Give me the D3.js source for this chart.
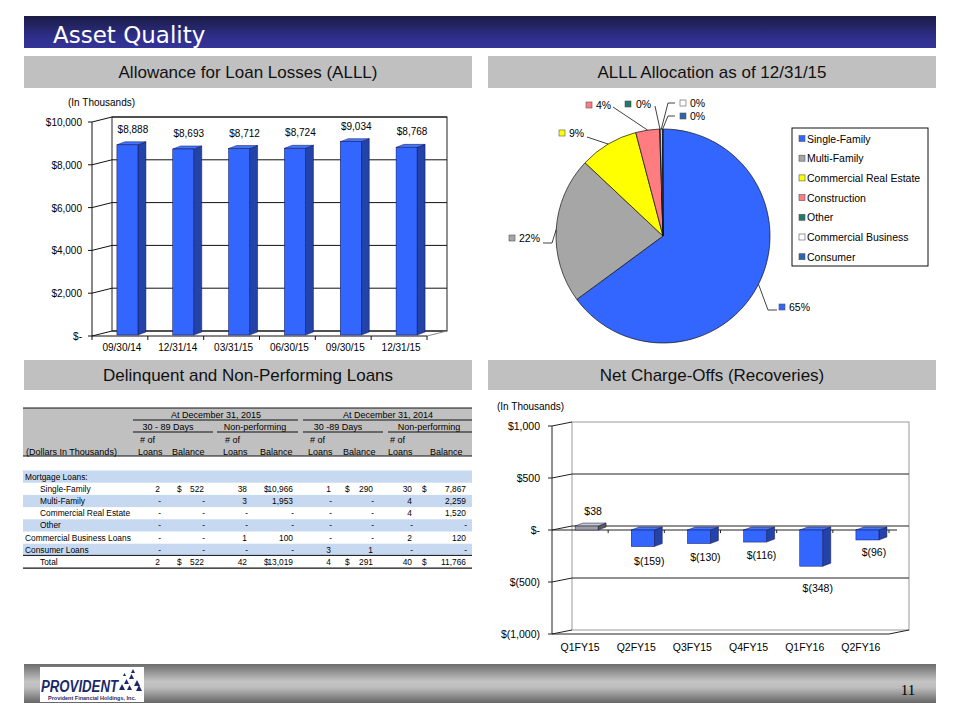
<!DOCTYPE html>
<html>
<head>
<meta charset="utf-8">
<script src="https://cdn.jsdelivr.net/npm/d3@7"></script>
<style>
body{margin:0;background:#fff}
svg{display:block}
text{font-family:"Liberation Sans",Arial,sans-serif}
</style>
</head>
<body>
<svg id="slide" width="960" height="720"></svg>
<script>
// ---- data: allowance for loan losses
var alllDates = ["09/30/14","12/31/14","03/31/15","06/30/15","09/30/15","12/31/15"];
var alllValues = [8888,8693,8712,8724,9034,8768];
var alllTicks = [0,2000,4000,6000,8000,10000];

// ---- data: ALLL allocation
var pieCats = ["Single-Family","Multi-Family","Commercial Real Estate","Construction","Other","Commercial Business","Consumer"];
var pieShares = [64.9,22.1,8.9,3.6,0.1,0.3,0.1];
var pieColors = ["#3366ff","#a6a6a6","#ffff00","#ff7c80","#1f7a66","#ffffff","#2a64b4"];

// ---- data: net charge-offs
var ncoQuarters = ["Q1FY15","Q2FY15","Q3FY15","Q4FY15","Q1FY16","Q2FY16"];
var ncoValues = [38,-159,-130,-116,-348,-96];
var ncoTicks = [-1000,-500,0,500,1000];

// ---- data: delinquent table
var rowLabels = ["Mortgage Loans:","Single-Family","Multi-Family","Commercial Real Estate","Other","Commercial Business Loans","Consumer Loans","Total"];
var loans15Late = [null,2,0,0,0,0,0,2];
var bal15Late   = [null,522,0,0,0,0,0,522];
var loans15Np   = [null,38,3,0,0,1,0,42];
var bal15Np     = [null,10966,1953,0,0,100,0,13019];
var loans14Late = [null,1,0,0,0,0,3,4];
var bal14Late   = [null,290,0,0,0,0,1,291];
var loans14Np   = [null,30,4,4,0,2,0,40];
var bal14Np     = [null,7867,2259,1520,0,120,0,11766];

var svg = d3.select("#slide");
var defs = svg.append("defs");
var comma = d3.format(",");
function money(v){
	if(v==0) return "$-";
	if(v<0) return "$("+comma(-v)+")";
	return "$"+comma(v);
}

// title bar
var tg = defs.append("linearGradient").attr("id","titleGrad").attr("x1",0).attr("y1",0).attr("x2",0).attr("y2",1);
tg.append("stop").attr("offset","0%").attr("stop-color","#1b1b45");
tg.append("stop").attr("offset","70%").attr("stop-color","#30308e");
tg.append("stop").attr("offset","100%").attr("stop-color","#343498");
svg.append("rect").attr("x",24).attr("y",16).attr("width",912).attr("height",32).attr("fill","url(#titleGrad)");
svg.append("text").attr("x",53).attr("y",43).attr("fill","#fff")
	.style("font-family","'DejaVu Sans',Verdana,sans-serif").style("font-size","23px").text("Asset Quality");

// section headers
var heads = [
	{t:"Allowance for Loan Losses (ALLL)", x:24, y:56},
	{t:"ALLL Allocation as of 12/31/15", x:488, y:56},
	{t:"Delinquent and Non-Performing Loans", x:24, y:360},
	{t:"Net Charge-Offs (Recoveries)", x:488, y:360}
];
heads.forEach(function(h){
	svg.append("rect").attr("x",h.x).attr("y",h.y).attr("width",448).attr("height",h.y==56?32:30).attr("fill","#c0c0c0");
	svg.append("text").attr("x",h.x+224).attr("y",h.y+(h.y==56?22:21)).attr("text-anchor","middle")
		.style("font-size","17px").attr("fill","#111").text(h.t);
});

// 3d column helper
function bar3d(g, x, yTop, yBot, w, d, dd, front, side, top){
	g.append("polygon")
		.attr("points",[[x+w,yTop],[x+w+d,yTop-dd],[x+w+d,yBot-dd],[x+w,yBot]].join(" "))
		.attr("fill",side).attr("stroke","#101050").attr("stroke-width",0.5);
	g.append("polygon")
		.attr("points",[[x,yTop],[x+d,yTop-dd],[x+w+d,yTop-dd],[x+w,yTop]].join(" "))
		.attr("fill",top).attr("stroke","#101050").attr("stroke-width",0.5);
	g.append("rect").attr("x",x).attr("y",yTop).attr("width",w).attr("height",yBot-yTop)
		.attr("fill",front).attr("stroke","#101050").attr("stroke-width",0.5);
}

// ---------- ALLL bar chart
(function(){
	var g = svg.append("g");
	var DX=20, DY=-5;
	var x = d3.scaleBand().domain(alllDates).range([92,427]);
	var y = d3.scaleLinear().domain([0,10000]).range([336,122]);
	var x0=92, x1=427;
	// back wall
	g.append("rect").attr("x",x0+DX).attr("y",y(10000)+DY).attr("width",x1-x0).attr("height",y(0)-y(10000))
		.attr("fill","#fff").attr("stroke","#222").attr("stroke-width",1);
	alllTicks.forEach(function(t){
		g.append("line").attr("x1",x0+DX).attr("x2",x1+DX).attr("y1",y(t)+DY).attr("y2",y(t)+DY).attr("stroke","#111");
		g.append("line").attr("x1",x0).attr("x2",x0+DX).attr("y1",y(t)).attr("y2",y(t)+DY).attr("stroke","#111");
		g.append("line").attr("x1",x0-4).attr("x2",x0).attr("y1",y(t)).attr("y2",y(t)).attr("stroke","#111");
		g.append("text").attr("x",82).attr("y",y(t)+4).attr("text-anchor","end").style("font-size","10px")
			.text(t==0?"$-":money(t));
	});
	g.append("line").attr("x1",x0).attr("x2",x0).attr("y1",y(10000)).attr("y2",y(0)).attr("stroke","#111");
	// floor
	g.append("line").attr("x1",x0).attr("x2",x1).attr("y1",y(0)).attr("y2",y(0)).attr("stroke","#111");
	g.append("line").attr("x1",x1).attr("x2",x1+DX).attr("y1",y(0)).attr("y2",y(0)+DY).attr("stroke","#888");
	alllDates.concat(["end"]).forEach(function(c,i){
		var xx = i<alllDates.length ? x(c) : x1;
		g.append("line").attr("x1",xx).attr("x2",xx).attr("y1",y(0)).attr("y2",y(0)+4).attr("stroke","#111");
	});
	alllDates.forEach(function(c,i){
		var cx = x(c)+x.bandwidth()/2;
		bar3d(g, cx-3, y(alllValues[i])-1, y(0)-1, 21, 8, 3, "#3366ff", "#2443a8", "#4477ff");
		g.append("text").attr("x",cx+13).attr("y",y(alllValues[i])-13).attr("text-anchor","middle")
			.style("font-size","10px").text(money(alllValues[i]));
		g.append("text").attr("x",cx+2).attr("y",351).attr("text-anchor","middle").style("font-size","10px").text(c);
	});
	g.append("text").attr("x",68).attr("y",106).style("font-size","10px").text("(In Thousands)");
})();

// ---------- pie
(function(){
	var g = svg.append("g").attr("transform","translate(663,236)");
	var r = 107;
	var pie = d3.pie().sort(null).value(function(d){return d;});
	var arcs = pie(pieShares);
	var arc = d3.arc().innerRadius(0).outerRadius(r);
	g.selectAll("path").data(arcs).enter().append("path")
		.attr("d",arc).attr("fill",function(d,i){return pieColors[i];})
		.attr("stroke","#111").attr("stroke-width",0.7);
	var total = d3.sum(pieShares);
	// label placement (slide coordinates): elbow points, marker centre, text x
	var spots = [
		{pts:[[768,310],[777,310]], m:[782,307], tx:789},
		{pts:[[552,243],[543,243]], m:[512,238], tx:519},
		{pts:[[587,137]], m:[562,133], tx:569},
		{pts:[[613,107]], m:[589,105], tx:596},
		{pts:[[655,106]], m:[628,104], tx:636},
		{pts:[[668,103],[675,103]], m:[683,103], tx:690},
		{pts:[[668,116],[675,116]], m:[683,116], tx:690}
	];
	var lg = svg.append("g");
	arcs.forEach(function(a,i){
		var mid = (a.startAngle+a.endAngle)/2;
		var p0 = [663+r*Math.sin(mid), 236-r*Math.cos(mid)];
		var s = spots[i];
		lg.append("polyline").attr("points",[p0].concat(s.pts).join(" "))
			.attr("fill","none").attr("stroke","#111").attr("stroke-width",0.8);
		lg.append("rect").attr("x",s.m[0]-3).attr("y",s.m[1]-3).attr("width",6).attr("height",6)
			.attr("fill",pieColors[i]).attr("stroke","#555").attr("stroke-width",0.6);
		lg.append("text").attr("x",s.tx).attr("y",s.m[1]+4).style("font-size","10.5px")
			.text(Math.round(a.data/total*100)+"%");
	});
	// legend
	var leg = svg.append("g");
	leg.append("rect").attr("x",792).attr("y",128).attr("width",136).attr("height",138)
		.attr("fill","#fff").attr("stroke","#111");
	pieCats.forEach(function(c,i){
		var yy = 138.5+i*19.7;
		leg.append("rect").attr("x",799).attr("y",yy-3).attr("width",6).attr("height",6)
			.attr("fill",pieColors[i]).attr("stroke","#555").attr("stroke-width",0.6);
		leg.append("text").attr("x",807).attr("y",yy+4).style("font-size","10.5px").text(c);
	});
})();

// ---------- net charge-offs
(function(){
	var g = svg.append("g");
	var DX=20, DY=-4;
	var x0=552, x1=889;
	var x = d3.scaleBand().domain(ncoQuarters).range([x0,x1]);
	var y = d3.scaleLinear().domain([-1000,1000]).range([634,426]);
	g.append("rect").attr("x",x0+DX).attr("y",y(1000)+DY).attr("width",x1-x0).attr("height",y(-1000)-y(1000))
		.attr("fill","#fff").attr("stroke","#999").attr("stroke-width",1);
	ncoTicks.forEach(function(t){
		if(t>-1000 && t<1000)
			g.append("line").attr("x1",x0+DX).attr("x2",x1+DX).attr("y1",y(t)+DY).attr("y2",y(t)+DY).attr("stroke","#222");
		g.append("line").attr("x1",x0).attr("x2",x0+DX).attr("y1",y(t)).attr("y2",y(t)+DY).attr("stroke","#222");
		g.append("line").attr("x1",x0-4).attr("x2",x0).attr("y1",y(t)).attr("y2",y(t)).attr("stroke","#222");
		g.append("text").attr("x",540).attr("y",y(t)+4).attr("text-anchor","end").style("font-size","10.5px")
			.text(money(t));
	});
	g.append("line").attr("x1",x0).attr("x2",x0).attr("y1",y(1000)).attr("y2",y(-1000)).attr("stroke","#222");
	g.append("line").attr("x1",x0).attr("x2",x1).attr("y1",y(-1000)).attr("y2",y(-1000)).attr("stroke","#222");
	g.append("line").attr("x1",x1).attr("x2",x1+DX).attr("y1",y(-1000)).attr("y2",y(-1000)+DY).attr("stroke","#222");
	// zero axis on the front
	g.append("line").attr("x1",x0).attr("x2",x1+8).attr("y1",y(0)).attr("y2",y(0)).attr("stroke","#222");
	ncoQuarters.forEach(function(c){
		g.append("line").attr("x1",x(c)+x.bandwidth()).attr("x2",x(c)+x.bandwidth()).attr("y1",y(0)).attr("y2",y(0)+3).attr("stroke","#222");
	});
	ncoQuarters.forEach(function(c,i){
		var cx = x(c)+x.bandwidth()/2;
		var v = ncoValues[i];
		var pos = v>0;
		bar3d(g, cx-5, pos?y(v):y(0), pos?y(0):y(v), 23, 8, 3,
			pos?"#a0a0a0":"#3366ff", pos?"#5a5a5a":"#2443a8", pos?"#c8c8c8":"#4477ff");
		var gap = 9 + Math.abs(y(v)-y(0))*0.35;
		g.append("text").attr("x",cx+13).attr("y",pos?y(v)-11:y(v)+gap+4).attr("text-anchor","middle")
			.style("font-size","10.5px").text(money(v));
		g.append("text").attr("x",cx).attr("y",651).attr("text-anchor","middle").style("font-size","10.5px").text(c);
	});
	g.append("text").attr("x",497).attr("y",410).style("font-size","10px").text("(In Thousands)");
})();

// ---------- delinquent table
(function(){
	var g = svg.append("g").style("font-size","8px");
	var L=23, R=472;
	// narrow body text
	function cell(p, x, y, s, anchor){
		return p.append("text").attr("transform","translate("+x+","+y+") scale(0.88,1)")
			.attr("text-anchor",anchor||"start").style("font-size","9.5px").text(s);
	}
	g.append("rect").attr("x",L).attr("y",408).attr("width",R-L).attr("height",48).attr("fill","#c0c0c0");
	g.append("line").attr("x1",L).attr("x2",R).attr("y1",408).attr("y2",408).attr("stroke","#111");
	g.append("line").attr("x1",L).attr("x2",R).attr("y1",456).attr("y2",456).attr("stroke","#111");
	var groups = [
		{t:"At December 31, 2015", cx:216, a:133, b:298, y:418, ly:420},
		{t:"At December 31, 2014", cx:388, a:303, b:472, y:418, ly:420},
		{t:"30 - 89 Days", cx:168, a:133, b:213, y:429.5, ly:432},
		{t:"Non-performing", cx:255, a:217, b:298, y:429.5, ly:432},
		{t:"30 -89 Days", cx:338, a:303, b:383, y:429.5, ly:432},
		{t:"Non-performing", cx:429, a:388, b:472, y:429.5, ly:432}
	];
	groups.forEach(function(h){
		g.append("text").attr("x",h.cx).attr("y",h.y).attr("text-anchor","middle").style("font-size","9px").text(h.t);
		g.append("line").attr("x1",h.a).attr("x2",h.b).attr("y1",h.ly).attr("y2",h.ly).attr("stroke","#111");
	});
	var colLeft = [138,172,223,260,308,343,388,430];
	var colHead = ["Loans","Balance","Loans","Balance","Loans","Balance","Loans","Balance"];
	colHead.forEach(function(h,i){
		if(h=="Loans") g.append("text").attr("x",colLeft[i]+2).attr("y",443).style("font-size","9px").text("# of");
		g.append("text").attr("x",colLeft[i]).attr("y",455).style("font-size","9px").text(h);
	});
	g.append("text").attr("x",26).attr("y",455).style("font-size","9px").text("(Dollars In Thousands)");

	var cols = [loans15Late,bal15Late,loans15Np,bal15Np,loans14Late,bal14Late,loans14Np,bal14Np];
	var rightX = [160,204,247,293,331,373,412,466];
	var dollarX = [null,177,null,264,null,345,null,422];
	var indent = [0,1,1,1,1,0,0,1];
	var rowY = d3.scaleBand().domain(rowLabels).range([470.5,470.5+12.2*rowLabels.length]);
	defs.append("clipPath").attr("id","labClip").append("rect").attr("x",0).attr("y",0).attr("width",136).attr("height",720);
	var bands = g.append("g"), labs = g.append("g").attr("clip-path","url(#labClip)"), nums = g.append("g");
	rowLabels.forEach(function(lab,r){
		var top = rowY(lab), base = top+9;
		if(r%2==0 && r<7) bands.append("rect").attr("x",L).attr("y",top).attr("width",R-L).attr("height",rowY.bandwidth()).attr("fill","#c6d9f1");
		cell(labs, indent[r]?40:25, base, lab);
		cols.forEach(function(col,c){
			var v = col[r];
			if(v===null) return;
			cell(nums, v==0?rightX[c]+1:rightX[c], base, v==0?"-":comma(v), "end");
			if(dollarX[c]!==null && (r==1 || r==7)) cell(nums, dollarX[c], base, "$");
		});
	});
	var totTop = rowY("Total");
	g.append("line").attr("x1",L).attr("x2",R).attr("y1",totTop-0.5).attr("y2",totTop-0.5).attr("stroke","#111");
	g.append("line").attr("x1",L).attr("x2",R).attr("y1",totTop+rowY.bandwidth()).attr("y2",totTop+rowY.bandwidth()).attr("stroke","#111").attr("stroke-width",1.3);
})();

// ---------- footer
var fg = defs.append("linearGradient").attr("id","footGrad").attr("x1",0).attr("y1",0).attr("x2",0).attr("y2",1);
fg.append("stop").attr("offset","0%").attr("stop-color","#6c6c6c");
fg.append("stop").attr("offset","45%").attr("stop-color","#c4c4c4");
fg.append("stop").attr("offset","60%").attr("stop-color","#bdbdbd");
fg.append("stop").attr("offset","100%").attr("stop-color","#656565");
svg.append("rect").attr("x",24).attr("y",664).attr("width",912).attr("height",39).attr("fill","url(#footGrad)");
var logo = svg.append("g");
logo.append("rect").attr("x",40).attr("y",667).attr("width",104).attr("height",35).attr("fill","#fff");
logo.append("text").attr("x",41).attr("y",692).attr("textLength",77).attr("lengthAdjust","spacingAndGlyphs")
	.style("font-size","16px").style("font-weight","bold").style("font-style","italic").attr("fill","#1b2a6b").text("PROVIDENT");
[[119,690,6],[124,684,5],[129,679,5],[134,686,6],[127,690,5],[136,691,6],[131,673,4],[123,676,3]].forEach(function(t){
	logo.append("path").attr("d","M"+t[0]+","+t[1]+"l"+t[2]+",0l"+(-t[2]/2)+","+(-t[2])+"z").attr("fill","#1b2a6b");
});
logo.append("text").attr("x",48).attr("y",699.5).attr("textLength",88).attr("lengthAdjust","spacingAndGlyphs")
	.style("font-size","5px").style("font-weight","bold").attr("fill","#1b2a6b").text("Provident Financial Holdings, Inc.");
svg.append("text").attr("x",908).attr("y",695).attr("text-anchor","middle")
	.style("font-family","'Liberation Serif','Times New Roman',serif").style("font-size","15px").text("11");
</script>
</body>
</html>
